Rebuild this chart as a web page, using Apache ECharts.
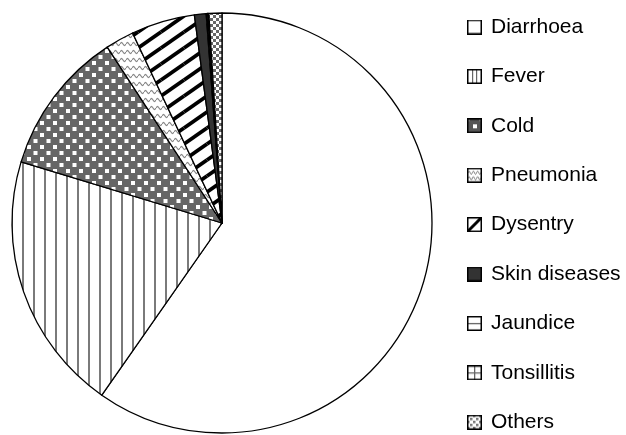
<!DOCTYPE html>
<html>
<head>
<meta charset="utf-8">
<script src="https://cdn.jsdelivr.net/npm/echarts@6/dist/echarts.min.js"></script>
<style>
html,body{margin:0;padding:0;background:#fff;}
#chart{width:626px;height:435px;}
</style>
</head>
<body>
<div id="chart"></div>
<script>
const categories = ['Diarrhoea', 'Fever', 'Cold', 'Pneumonia', 'Dysentry', 'Skin diseases', 'Jaundice', 'Tonsillitis', 'Others'];
const values = [59.7, 20.0, 11.1, 2.2, 4.9, 0.9, 0.1, 0.1, 1.0];

function tile(w, h, draw) {
  const c = document.createElement('canvas');
  c.width = w; c.height = h;
  const g = c.getContext('2d');
  draw(g, w, h);
  return c;
}
function wave(g, x0, x1, yc, amp, period) {
  g.beginPath();
  for (let x = x0; x <= x1 + 0.01; x += 0.5) {
    const y = yc - amp * Math.sin(2 * Math.PI * (x - x0) / period);
    if (x === x0) g.moveTo(x, y); else g.lineTo(x, y);
  }
  g.stroke();
}
// slice fill patterns
const fills = {
  'Diarrhoea': '#ffffff',
  'Fever': tile(11, 11, (g, w, h) => { g.fillStyle = '#fff'; g.fillRect(0, 0, w, h); g.fillStyle = '#7a7a7a'; g.fillRect(0, 0, 2, h); }),
  'Cold': tile(13, 12, (g, w, h) => { g.fillStyle = '#666'; g.fillRect(0, 0, w, h); g.fillStyle = '#fff'; g.fillRect(1, 1, 4, 4); g.fillRect(7.5, 7, 4, 4); }),
  'Pneumonia': tile(6, 8, (g, w, h) => { g.fillStyle = '#fff'; g.fillRect(0, 0, w, h); g.strokeStyle = '#888'; g.lineWidth = 1.2; wave(g, 0, 6, 4, 1.5, 6); }),
  'Dysentry': tile(23, 16, (g, w, h) => {
    g.fillStyle = '#fff'; g.fillRect(0, 0, w, h); g.strokeStyle = '#000'; g.lineWidth = 3.8;
    for (const dx of [-w, 0, w]) for (const dy of [-h, 0, h]) { g.beginPath(); g.moveTo(dx, h + dy); g.lineTo(w + dx, dy); g.stroke(); }
  }),
  'Skin diseases': '#333333',
  'Jaundice': tile(8, 8, (g, w, h) => { g.fillStyle = '#fff'; g.fillRect(0, 0, w, h); g.fillStyle = '#777'; g.fillRect(0, 3, w, 1.5); }),
  'Tonsillitis': tile(8, 8, (g, w, h) => { g.fillStyle = '#fff'; g.fillRect(0, 0, w, h); g.fillStyle = '#777'; g.fillRect(0, 3, w, 1.5); g.fillRect(3, 0, 1.5, h); }),
  'Others': tile(6, 6, (g, w, h) => { g.fillStyle = '#fff'; g.fillRect(0, 0, w, h); g.fillStyle = '#666'; g.fillRect(0, 0, 3, 3); g.fillRect(3, 3, 3, 3); })
};
function colorOf(name) {
  const f = fills[name];
  return typeof f === 'string' ? f : { image: f, repeat: 'repeat' };
}
// legend icons
function icon(name) {
  const c = tile(15, 15, (g, w, h) => {
    g.fillStyle = '#fff'; g.fillRect(0, 0, w, h);
    if (name === 'Fever') { g.fillStyle = '#666'; g.fillRect(5, 1, 1.2, 13); g.fillRect(9, 1, 1.2, 13); }
    if (name === 'Cold') { g.fillStyle = '#555'; g.fillRect(0, 0, w, h); g.fillStyle = '#fff'; g.fillRect(6, 6, 4, 4); g.fillRect(1.5, 1.5, 1, 1); g.fillRect(12.5, 1.5, 1, 1); }
    if (name === 'Pneumonia') { g.strokeStyle = '#777'; g.lineWidth = 1; wave(g, 1, 14, 5, 1.6, 4.3); wave(g, 1, 14, 10.5, 1.6, 4.3); }
    if (name === 'Dysentry') { g.strokeStyle = '#000'; g.lineWidth = 3; g.beginPath(); g.moveTo(0, 15); g.lineTo(15, 0); g.stroke(); }
    if (name === 'Skin diseases') { g.fillStyle = '#333'; g.fillRect(0, 0, w, h); }
    if (name === 'Jaundice') { g.fillStyle = '#666'; g.fillRect(1, 7, 13, 1.3); }
    if (name === 'Tonsillitis') { g.fillStyle = '#666'; g.fillRect(1, 7, 13, 1.3); g.fillRect(7, 1, 1.3, 13); }
    if (name === 'Others') { g.fillStyle = '#777'; for (let y = 0; y < 15; y += 3) for (let x = 0; x < 15; x += 3) if (((x + y) / 3) % 2 === 0) g.fillRect(x, y, 2.5, 2.5); }
    g.strokeStyle = '#000'; g.lineWidth = 1.5; g.strokeRect(0.75, 0.75, 13.5, 13.5);
  });
  return 'image://' + c.toDataURL();
}

const chart = echarts.init(document.getElementById('chart'));
chart.setOption({
  animation: false,
  backgroundColor: '#fff',
  legend: {
    orient: 'vertical',
    left: 467,
    top: 16.5,
    height: 1000,
    padding: 0,
    itemWidth: 15,
    itemHeight: 15,
    itemGap: 28.4,
    selectedMode: false,
    data: categories.map(n => ({ name: n, icon: icon(n) })),
    textStyle: { fontFamily: 'Liberation Sans, Arial, sans-serif', fontSize: 21, color: '#000', lineHeight: 20, padding: [0, 0, 0, 4] }
  },
  series: [{
    type: 'pie',
    center: [222, 223],
    radius: [0, 210],
    startAngle: 90,
    clockwise: true,
    label: { show: false },
    labelLine: { show: false },
    emphasis: { disabled: true },
    itemStyle: { borderColor: '#000', borderWidth: 1.3 },
    data: categories.map((n, i) => ({ name: n, value: values[i], itemStyle: { color: colorOf(n) } }))
  }]
});
</script>
</body>
</html>
